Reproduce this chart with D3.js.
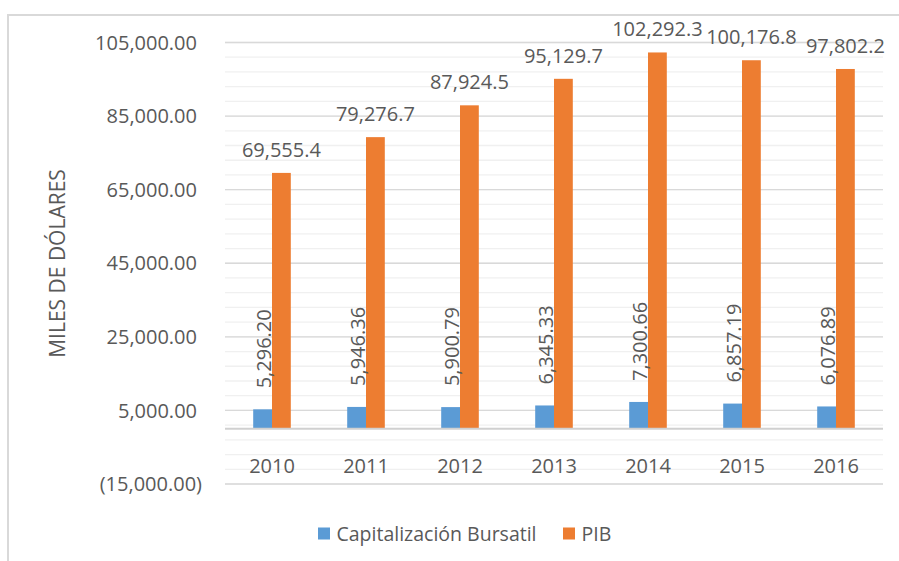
<!DOCTYPE html>
<html>
<head>
<meta charset="utf-8">
<script src="https://cdn.jsdelivr.net/npm/d3@7"></script>
<style>
  body { margin: 0; background: #fff; }
  text { font-family: "Open Sans", sans-serif; fill: #595959; }
</style>
</head>
<body>
<svg id="chart" width="899" height="561"></svg>
<script>
// Capitalización bursátil vs PIB (miles de dólares)
const years = ['2010', '2011', '2012', '2013', '2014', '2015', '2016'];
const capitalizacion = [5296.20, 5946.36, 5900.79, 6345.33, 7300.66, 6857.19, 6076.89];
const pib = [69555.4, 79276.7, 87924.5, 95129.7, 102292.3, 100176.8, 97802.2];
const seriesNames = ['Capitalización Bursatil', 'PIB'];
const colors = ['#5B9BD5', '#ED7D31'];
const majorTicks = [-15000, 5000, 25000, 45000, 65000, 85000, 105000];
const minorStep = 4000;

const svg = d3.select('#chart');

// outer frame
svg.append('rect')
  .attr('x', 8).attr('y', 15)
  .attr('width', 1000).attr('height', 1000)
  .attr('fill', 'none')
  .attr('stroke', '#d9d9d9')
  .attr('stroke-width', 2);

const plot = { left: 225, right: 883, top: 42.5, bottom: 484 };

const y = d3.scaleLinear()
  .domain([-15000, 105000])
  .range([plot.bottom, plot.top]);

const x0 = d3.scaleBand()
  .domain(years)
  .range([plot.left, plot.right])
  .paddingInner(0.6)
  .paddingOuter(0.3);

const x1 = d3.scaleBand()
  .domain([0, 1])
  .range([0, x0.bandwidth()]);

// minor gridlines
const minor = d3.range(-15000, 105001, minorStep);
svg.append('g').selectAll('line')
  .data(minor)
  .join('line')
  .attr('x1', plot.left).attr('x2', plot.right)
  .attr('y1', d => y(d)).attr('y2', d => y(d))
  .attr('stroke', '#f0f0f0')
  .attr('stroke-width', 1.3);

// major gridlines
svg.append('g').selectAll('line')
  .data(majorTicks)
  .join('line')
  .attr('x1', plot.left).attr('x2', plot.right)
  .attr('y1', d => y(d)).attr('y2', d => y(d))
  .attr('stroke', '#d9d9d9')
  .attr('stroke-width', 1.3);

// y axis labels
const fmt = d3.format(',.2f');
svg.append('g').selectAll('text')
  .data(majorTicks)
  .join('text')
  .attr('x', d => d < 0 ? 202 : 197)
  .attr('y', d => y(d))
  .attr('dy', '0.36em')
  .attr('text-anchor', 'end')
  .style('font-size', '20px')
  .text(d => d < 0 ? `(${fmt(-d)})` : fmt(d));

// bars
const groups = svg.append('g').selectAll('g')
  .data(years)
  .join('g')
  .attr('transform', d => `translate(${x0(d)},0)`);

const values = [capitalizacion, pib];

groups.selectAll('rect')
  .data((d, i) => values.map((s, k) => ({ k, v: s[i] })))
  .join('rect')
  .attr('x', d => x1(d.k))
  .attr('width', x1.bandwidth())
  .attr('y', d => y(d.v))
  .attr('height', d => y(0) - y(d.v))
  .attr('fill', d => colors[d.k]);

// zero axis line
svg.append('line')
  .attr('x1', plot.left).attr('x2', plot.right)
  .attr('y1', y(0)).attr('y2', y(0))
  .attr('stroke', '#d0d0d0')
  .attr('stroke-width', 2);

// PIB labels
groups.append('text')
  .attr('x', x1(1) + x1.bandwidth() / 2)
  .attr('y', (d, i) => y(pib[i]) - 16)
  .attr('text-anchor', 'middle')
  .style('font-size', '20px')
  .text((d, i) => d3.format(',.1f')(pib[i]));

// capitalizacion labels (rotated)
groups.append('text')
  .attr('transform', (d, i) => `translate(${x1(0) + x1.bandwidth() / 2 + 1.5},${y(capitalizacion[i]) - 21}) rotate(-90)`)
  .attr('dy', '0.36em')
  .attr('text-anchor', 'start')
  .style('font-size', '20px')
  .text((d, i) => fmt(capitalizacion[i]));

// year labels
svg.append('g').selectAll('text')
  .data(years)
  .join('text')
  .attr('x', d => x0(d) + x0.bandwidth() / 2)
  .attr('y', 466)
  .attr('dy', '0.36em')
  .attr('text-anchor', 'middle')
  .style('font-size', '20px')
  .text(d => d);

// y axis title
svg.append('text')
  .attr('transform', 'translate(57,263.5) rotate(-90)')
  .attr('dy', '0.36em')
  .attr('text-anchor', 'middle')
  .style('font-size', '21px')
  .text('MILES DE DÓLARES');

// legend
const legendPos = [318, 563];
const legend = svg.append('g').selectAll('g')
  .data(seriesNames)
  .join('g')
  .attr('transform', (d, i) => `translate(${legendPos[i]},527.5)`);

legend.append('rect')
  .attr('width', 12).attr('height', 12)
  .attr('fill', (d, i) => colors[i]);

legend.append('text')
  .attr('x', 18.5)
  .attr('y', 6)
  .attr('dy', '0.36em')
  .style('font-size', '19.5px')
  .text(d => d);
</script>
</body>
</html>
